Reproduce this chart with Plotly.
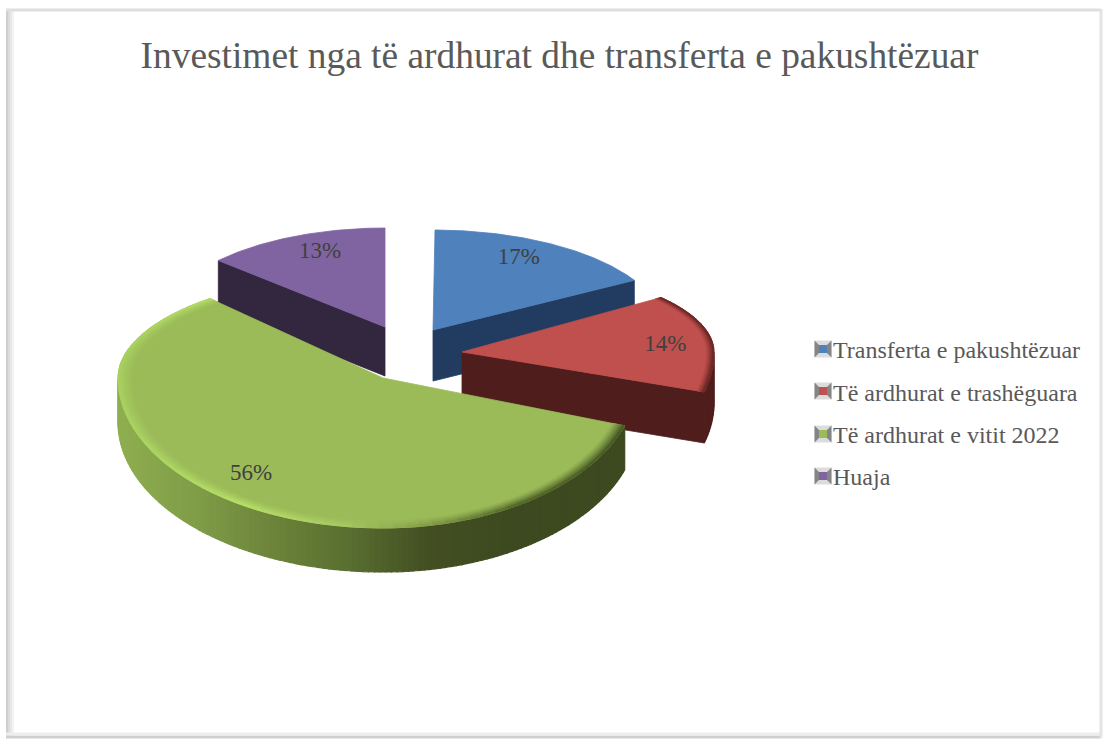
import math
import plotly.graph_objects as go

TITLE = "Investimet nga të ardhurat dhe transferta e pakushtëzuar"
categories = ["Transferta e pakushtëzuar", "Të ardhurat e trashëguara", "Të ardhurat e vitit 2022", "Huaja"]
values = [17, 14, 56, 13]
top_colors = ["#4f81bd", "#c0504d", "#9bbb59", "#8064a2"]
wall_colors = ["#213c60", "#4f1e1c", "#5f7632", "#33263f"]

W, H = 1103, 740

# Per-slice projected geometry of the tilted, exploded pie (pixels and degrees).
# apex, half-axes left/right/up/down, angle correction at start/end, wall depth, label angle shift
geometry = [
    dict(ax=433, ay=330, al=232, ar=232, bu=100, bd=100, d0=0.5, d1=-1, depth=51, ls=-3.2),
    dict(ax=462, ay=352, al=252, ar=252, bu=89, bd=145, d0=-9, d1=-5.6, depth=51, ls=5.7),
    dict(ax=383, ay=378, al=265, ar=255, bu=105, bd=150, d0=-3, d1=6, depth=44, ls=4),
    dict(ax=385, ay=327, al=225, ar=225, bu=99, bd=99, d0=-1, d1=0, depth=49, ls=3),
]
LABEL_R = 0.81

GREEN_WALL = [(118, "#8fae50"), (200, "#7f9c47"), (280, "#6b8239"), (350, "#596f30"), (430, "#434f22"), (510, "#3d4a20")]
GREEN_RIM = [(118, "#a8d060"), (250, "#b5de68"), (350, "#a8c862"), (430, "#86a04a"), (520, "#566a2a"), (625, "#4a5b26")]


def lerp(c1, c2, t):
    a = [int(c1[i:i + 2], 16) for i in (1, 3, 5)]
    b = [int(c2[i:i + 2], 16) for i in (1, 3, 5)]
    return "#%02x%02x%02x" % tuple(round(p + (q - p) * t) for p, q in zip(a, b))


def ramp(stops, x):
    if x <= stops[0][0]:
        return stops[0][1]
    for (x0, c0), (x1, c1) in zip(stops, stops[1:]):
        if x <= x1:
            return lerp(c0, c1, (x - x0) / (x1 - x0))
    return stops[-1][1]


fig = go.Figure()


def poly(pts, color, lw=0.8):
    xs = [p[0] for p in pts] + [pts[0][0]]
    ys = [p[1] for p in pts] + [pts[0][1]]
    fig.add_trace(go.Scatter(x=xs, y=ys, mode="lines", fill="toself", fillcolor=color,
                             line=dict(color=color, width=lw), hoverinfo="skip", showlegend=False))


total = sum(values)
slices = []
acc = 0
for i, v in enumerate(values):
    g = geometry[i]
    a0 = acc / total * 360 + g["d0"]
    acc += v
    a1 = acc / total * 360 + g["d1"]
    slices.append(dict(g, i=i, a0=a0, a1=a1, mid=(a0 + a1) / 2))


def pt(s, deg, r=1.0, z=0.0):
    t = math.radians(deg)
    sx, cy = math.sin(t), math.cos(t)
    return (s["ax"] + r * sx * (s["ar"] if sx >= 0 else s["al"]),
            s["ay"] - r * cy * (s["bu"] if cy >= 0 else s["bd"]) + z)


def radial_wall(s, deg):
    d = s["depth"]
    c, e = pt(s, deg, 0), pt(s, deg)
    poly([c, e, (e[0], e[1] + d), (c[0], c[1] + d)], wall_colors[s["i"]])


def outer_wall(s, a0, a1, fn, steps):
    for j in range(steps):
        a = a0 + (a1 - a0) * j / steps
        b = a0 + (a1 - a0) * (j + 1) / steps
        p = [pt(s, a), pt(s, b), pt(s, b, 1, s["depth"]), pt(s, a, 1, s["depth"])]
        poly(p, fn(p[0][0]), 1.2)


def top(s):
    n = 120
    poly([pt(s, 0, 0)] + [pt(s, s["a0"] + (s["a1"] - s["a0"]) * j / n) for j in range(n + 1)], top_colors[s["i"]])


def rim(s, fn, steps, r_in):
    bands = 5
    base = top_colors[s["i"]]
    for k in range(bands):
        r0 = r_in + (1 - r_in) * k / bands
        r1 = r_in + (1 - r_in) * (k + 1) / bands
        t = ((k + 1) / bands) ** 1.3
        for j in range(steps):
            a = s["a0"] + (s["a1"] - s["a0"]) * j / steps
            b = s["a0"] + (s["a1"] - s["a0"]) * (j + 1) / steps
            p = [pt(s, a, r0), pt(s, b, r0), pt(s, b, r1), pt(s, a, r1)]
            poly(p, lerp(base, fn(p[3][0]), t), 1.0)


blue, red, green, purple = slices

radial_wall(purple, purple["a0"])
top(purple)
radial_wall(blue, blue["a1"])
top(blue)
outer_wall(red, 90, red["a1"], lambda x: wall_colors[1], 10)
radial_wall(red, red["a1"])
top(red)
rim(red, lambda x: "#6e2826", 30, 0.97)
outer_wall(green, green["a0"], 270, lambda x: ramp(GREEN_WALL, x), 130)
top(green)
rim(green, lambda x: ramp(GREEN_RIM, x), 70, 0.95)

# data labels
lx, ly, lt = [], [], []
for s, v in zip(slices, values):
    x, y = pt(s, s["mid"] + s["ls"], LABEL_R)
    lx.append(x); ly.append(y); lt.append(f"{v}%")
fig.add_trace(go.Scatter(x=lx, y=ly, text=lt, mode="text", textposition="middle center",
                         textfont=dict(family="Liberation Serif", size=23, color="#404040"),
                         hoverinfo="skip", showlegend=False))

# legend text, with bevelled icons beside it
LEG_ICON_X = 823
legend_rows = [349, 391, 434, 476]
for i, (name, col) in enumerate(zip(categories, top_colors)):
    fig.add_trace(go.Scatter(x=[None], y=[None], mode="markers", name=name, legendgroup=f"g{i}",
                             marker=dict(symbol="square", size=1, color="rgba(0,0,0,0)",
                                         line=dict(width=0, color="rgba(0,0,0,0)"))))
ix = [LEG_ICON_X] * 4
fig.add_trace(go.Scatter(x=ix, y=legend_rows, mode="markers", showlegend=False, hoverinfo="skip",
                         marker=dict(symbol="square", size=17, color="#dcdcdc", line=dict(width=0))))
fig.add_trace(go.Scatter(x=ix, y=legend_rows, mode="markers", showlegend=False, hoverinfo="skip",
                         marker=dict(symbol="bowtie", size=17, color="#858585", line=dict(width=0))))
fig.add_trace(go.Scatter(x=ix, y=legend_rows, mode="markers", showlegend=False, hoverinfo="skip",
                         marker=dict(symbol="square", size=8, color=top_colors, line=dict(width=0))))

# frame
frame = []
for k, col in enumerate(["#cfcfcf", "#dcdcdc", "#e8e8e8", "#f3f3f3"]):
    frame.append(dict(type="line", xref="paper", yref="paper", x0=(7 + 2 * k) / W, x1=(7 + 2 * k) / W,
                      y0=3 / H, y1=1 - 10 / H, line=dict(color=col, width=2)))
frame += [
    dict(type="line", xref="paper", yref="paper", x0=6 / W, x1=1101 / W, y0=1 - 10 / H, y1=1 - 10 / H,
         line=dict(color="#dedede", width=3)),
    dict(type="line", xref="paper", yref="paper", x0=6 / W, x1=1101 / W, y0=3 / H, y1=3 / H,
         line=dict(color="#cfcfcf", width=3)),
    dict(type="line", xref="paper", yref="paper", x0=6 / W, x1=1101 / W, y0=6 / H, y1=6 / H,
         line=dict(color="#eeeeee", width=3)),
    dict(type="line", xref="paper", yref="paper", x0=1101 / W, x1=1101 / W, y0=2 / H, y1=1 - 9 / H,
         line=dict(color="#e4e4e4", width=3)),
]

fig.update_layout(
    width=W, height=H, margin=dict(l=0, r=0, t=0, b=0),
    paper_bgcolor="white", plot_bgcolor="white",
    title=dict(text=TITLE, x=559.5 / W, xanchor="center", y=1 - 55 / H, yanchor="middle",
               font=dict(family="Liberation Serif", size=37.4, color="#595959")),
    xaxis=dict(range=[0, W], visible=False, fixedrange=True),
    yaxis=dict(range=[H, 0], visible=False, fixedrange=True),
    legend=dict(x=793 / W, y=1 - 412.5 / H, xanchor="left", yanchor="middle",
                font=dict(family="Liberation Serif", size=24, color="#595959"),
                bgcolor="rgba(0,0,0,0)", tracegroupgap=8, itemclick=False, itemdoubleclick=False),
    shapes=frame,
)
fig.write_html("out.html", post_script="document.body.style.margin='0';",
               config={"displayModeBar": False})
